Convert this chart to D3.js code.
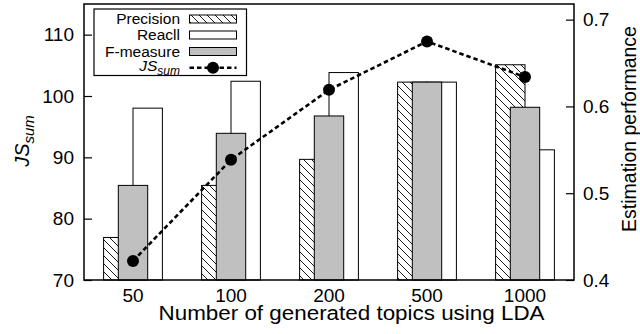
<!DOCTYPE html>
<html><head><meta charset="utf-8">
<script src="https://cdn.jsdelivr.net/npm/d3@7"></script>
<style>
html,body{margin:0;padding:0;background:#fff;}
text{font-family:"Liberation Sans",Arial,sans-serif;}
</style></head>
<body><svg id="c" width="640" height="334"></svg>
<script>
const categories = ["50","100","200","500","1000"];
const precision = [0.449, 0.509, 0.539, 0.628, 0.648];
const recall    = [0.598, 0.629, 0.639, 0.628, 0.550];
const fmeasure  = [0.509, 0.569, 0.589, 0.628, 0.599];
const jsSum     = [73.1, 89.6, 101.0, 108.9, 103.1];
const leftTicks = [70, 80, 90, 100, 110];
const rightTicks = [0.4, 0.5, 0.6, 0.7];

const L = 84, R = 574, T = 4, B = 280;
const svg = d3.select("#c");
const defs = svg.append("defs");
const pat = defs.append("pattern").attr("id","hatch").attr("patternUnits","userSpaceOnUse")
  .attr("width",8).attr("height",8);
pat.append("rect").attr("width",8).attr("height",8).attr("fill","#fff");
pat.append("path").attr("d","M-2,-2L10,10M-2,6L2,10M6,-2L10,2").attr("stroke","#000").attr("stroke-width",0.9);

const x = d3.scaleBand().domain(categories).range([L, R]).padding(0);
const yL = d3.scaleLinear().domain([70, 115]).range([B, T]);
const yR = d3.scaleLinear().domain([0.4, 0.718]).range([B, T]);
const bw = x.bandwidth() * 0.3;
const cx = c => x(c) + x.bandwidth() / 2;

const g = svg.append("g");
g.selectAll(".p").data(categories).join("rect")
  .attr("x", c => cx(c) - bw).attr("width", bw)
  .attr("y", (c,i) => yR(precision[i])).attr("height", (c,i) => B - yR(precision[i]))
  .attr("fill","url(#hatch)").attr("stroke","#000").attr("stroke-width",1);
g.selectAll(".r").data(categories).join("rect")
  .attr("x", c => cx(c)).attr("width", bw)
  .attr("y", (c,i) => yR(recall[i])).attr("height", (c,i) => B - yR(recall[i]))
  .attr("fill","#fff").attr("stroke","#000").attr("stroke-width",1);
g.selectAll(".f").data(categories).join("rect")
  .attr("x", c => cx(c) - bw/2).attr("width", bw)
  .attr("y", (c,i) => yR(fmeasure[i])).attr("height", (c,i) => B - yR(fmeasure[i]))
  .attr("fill","#c0c0c0").attr("stroke","#000").attr("stroke-width",1);

const line = d3.line().x((d,i) => cx(categories[i])).y(d => yL(d));
svg.append("path").datum(jsSum).attr("d", line).attr("fill","none")
  .attr("stroke","#000").attr("stroke-width",2.6).attr("stroke-dasharray","4.5,3");
svg.selectAll(".dot").data(jsSum).join("circle")
  .attr("cx",(d,i)=>cx(categories[i])).attr("cy", d=>yL(d)).attr("r",6).attr("fill","#000");

svg.append("rect").attr("x",L).attr("y",T).attr("width",R-L).attr("height",B-T)
  .attr("fill","none").attr("stroke","#000").attr("stroke-width",1.5);

const fs = "19px";
const ax1 = svg.append("g").attr("transform",`translate(${L},0)`)
  .call(d3.axisLeft(yL).tickValues(leftTicks).tickSizeInner(-8).tickSizeOuter(0).tickPadding(10));
const ax2 = svg.append("g").attr("transform",`translate(${R},0)`)
  .call(d3.axisRight(yR).tickValues(rightTicks).tickFormat(d3.format(".1f")).tickSizeInner(-8).tickSizeOuter(0).tickPadding(9));
const ax3 = svg.append("g").attr("transform",`translate(0,${B})`)
  .call(d3.axisBottom(x).tickSize(0).tickPadding(9));
[ax1,ax2,ax3].forEach(a => {
  a.select(".domain").remove();
  a.selectAll("text").attr("font-size",fs).attr("font-family","Liberation Sans, Arial, sans-serif").attr("fill","#000");
  a.selectAll("line").attr("stroke","#000").attr("stroke-width",1.2);
});

svg.append("text").attr("x",351.5).attr("y",320).attr("text-anchor","middle")
  .attr("font-size","20px").attr("textLength",386).attr("lengthAdjust","spacingAndGlyphs")
  .text("Number of generated topics using LDA");
svg.append("text").attr("transform","translate(636,129) rotate(-90)").attr("text-anchor","middle")
  .attr("font-size","19.5px").text("Estimation performance");
const yt = svg.append("text").attr("transform","translate(29,141) rotate(-90)").attr("text-anchor","middle")
  .attr("font-size","20px").attr("font-style","italic");
yt.append("tspan").text("JS");
yt.append("tspan").attr("font-size","15px").attr("dy","5").text("sum");

const lg = svg.append("g");
lg.append("rect").attr("x",94).attr("y",9).attr("width",152.5).attr("height",66.5)
  .attr("fill","#fff").attr("stroke","#000").attr("stroke-width",1.2);
const rows = [19, 35, 51.5, 67.7];
const names = ["Precision","Reacll","F-measure"];
const fills = ["url(#hatch)","#fff","#c0c0c0"];
names.forEach((n,i) => {
  lg.append("text").attr("x",180).attr("y",rows[i]).attr("dy","0.35em").attr("text-anchor","end")
    .attr("font-size","15.5px").text(n);
  lg.append("rect").attr("x",189.5).attr("y",rows[i]-4).attr("width",47).attr("height",8)
    .attr("fill",fills[i]).attr("stroke","#000").attr("stroke-width",1);
});
const jt = lg.append("text").attr("x",180).attr("y",rows[3]).attr("dy","0.2em").attr("text-anchor","end")
  .attr("font-size","15.5px").attr("font-style","italic");
jt.append("tspan").text("JS");
jt.append("tspan").attr("font-size","12px").attr("dy","4").text("sum");
lg.append("line").attr("x1",189.5).attr("x2",236.5).attr("y1",rows[3]).attr("y2",rows[3])
  .attr("stroke","#000").attr("stroke-width",2.6).attr("stroke-dasharray","4.5,3");
lg.append("circle").attr("cx",213).attr("cy",rows[3]).attr("r",6).attr("fill","#000");
</script></body></html>
